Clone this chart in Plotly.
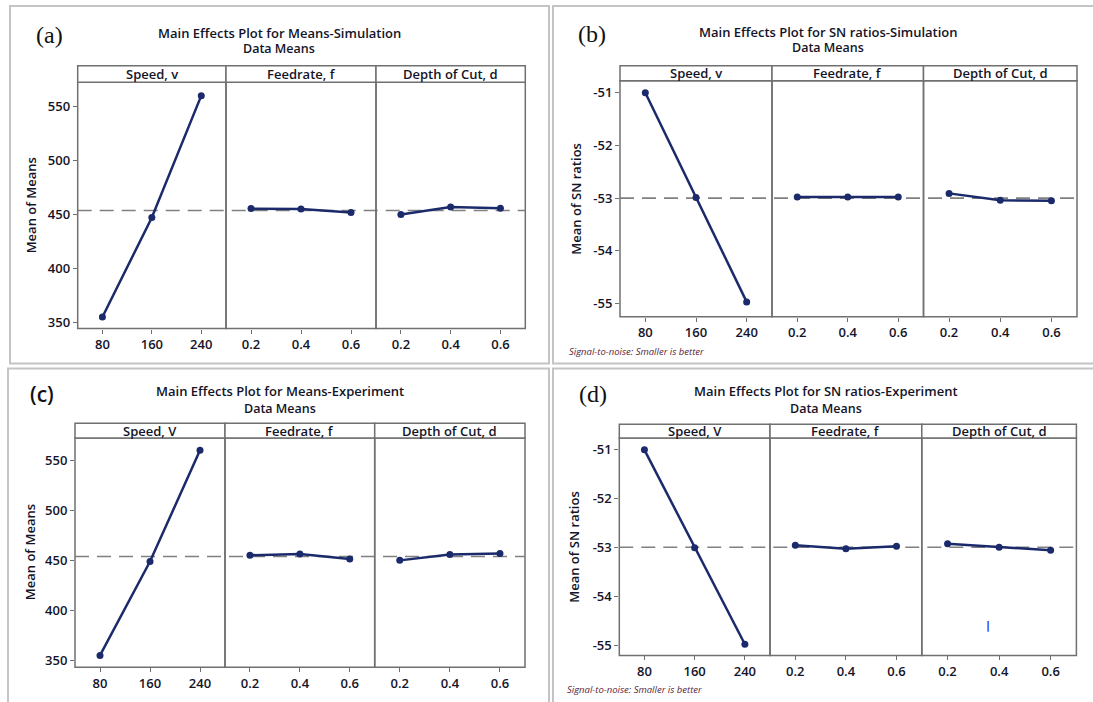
import plotly.graph_objects as go

W, H = 1093, 702

# ---------------- data ----------------
speed_levels = ["80", "160", "240"]
feed_levels = ["0.2", "0.4", "0.6"]
depth_levels = ["0.2", "0.4", "0.6"]

factor_names_a = ["Speed, v", "Feedrate, f", "Depth of Cut, d"]
factor_names_c = ["Speed, V", "Feedrate, f", "Depth of Cut, d"]

# (a) Means - Simulation
sim_means_speed = [355.3, 447.4, 560.4]
sim_means_feed = [455.7, 455.4, 452.0]
sim_means_depth = [450.2, 457.2, 456.0]
sim_means_grand = 454.0

# (b) SN ratios - Simulation
sim_sn_speed = [-51.0, -52.99, -54.97]
sim_sn_feed = [-52.98, -52.98, -52.98]
sim_sn_depth = [-52.91, -53.04, -53.05]
sim_sn_grand = -53.0

# (c) Means - Experiment
exp_means_speed = [355.0, 449.0, 560.4]
exp_means_feed = [455.3, 456.6, 451.6]
exp_means_depth = [450.2, 456.0, 457.0]
exp_means_grand = 454.0

# (d) SN ratios - Experiment
exp_sn_speed = [-51.0, -53.0, -54.97]
exp_sn_feed = [-52.95, -53.02, -52.97]
exp_sn_depth = [-52.92, -52.99, -53.05]
exp_sn_grand = -52.99

means_ticks = [350, 400, 450, 500, 550]
means_ticktext = ["350", "400", "450", "500", "550"]
sn_ticks = [-55, -54, -53, -52, -51]
sn_ticktext = ["-55", "-54", "-53", "-52", "-51"]

panels = [
    dict(tag="(a)", title="Main Effects Plot for Means-Simulation", ytitle="Mean of Means",
         names=factor_names_a, series=[sim_means_speed, sim_means_feed, sim_means_depth],
         grand=sim_means_grand, ticks=means_ticks, ticktext=means_ticktext, foot=False,
         xs=[77.7, 226, 376, 525.3], strip_top=66, top=82.5, bottom=330,
         yr=[344.5, 572.9], title_x=279, title_y=33, sub_y=49, tag_x=49, tag_y=35,
         ytitle_x=31, tagserif=True),
    dict(tag="(b)", title="Main Effects Plot for SN ratios-Simulation", ytitle="Mean of SN ratios",
         names=factor_names_a, series=[sim_sn_speed, sim_sn_feed, sim_sn_depth],
         grand=sim_sn_grand, ticks=sn_ticks, ticktext=sn_ticktext, foot=True,
         xs=[620, 772, 923.5, 1077], strip_top=66, top=81, bottom=318,
         yr=[-55.25, -50.77], title_x=828, title_y=32, sub_y=48, tag_x=592, tag_y=34,
         ytitle_x=576, foot_x=567, foot_y=353, tagserif=True),
    dict(tag="(c)", title="Main Effects Plot for Means-Experiment", ytitle="Mean of Means",
         names=factor_names_c, series=[exp_means_speed, exp_means_feed, exp_means_depth],
         grand=exp_means_grand, ticks=means_ticks, ticktext=means_ticktext, foot=False,
         xs=[75, 225, 374.7, 525], strip_top=425, top=440, bottom=670,
         yr=[343.3, 572.6], title_x=280, title_y=393, sub_y=410, tag_x=42, tag_y=396,
         ytitle_x=29.6, tagserif=False),
    dict(tag="(d)", title="Main Effects Plot for SN ratios-Experiment", ytitle="Mean of SN ratios",
         names=factor_names_c, series=[exp_sn_speed, exp_sn_feed, exp_sn_depth],
         grand=exp_sn_grand, ticks=sn_ticks, ticktext=sn_ticktext, foot=True,
         xs=[619.3, 770, 921.8, 1076.4], strip_top=426, top=440, bottom=658.3,
         yr=[-55.2, -50.76], title_x=826, title_y=393, sub_y=410, tag_x=593, tag_y=396,
         ytitle_x=574, foot_x=565, foot_y=692, tagserif=True),
]

levels = [speed_levels, feed_levels, depth_levels]

LINE = "#1b2a6b"
AXC = "#707070"
TXT = "#141428"
FONT = "Open Sans"


def px(x):
    return x / W


def py(y):
    return 1 - y / H


fig = go.Figure()
layout = dict(
    width=W, height=H, margin=dict(l=0, r=0, t=0, b=0),
    paper_bgcolor="white", plot_bgcolor="white", showlegend=False,
    font=dict(family=FONT, size=12, color=TXT),
)
shapes = []
annotations = []

# outer panel frames
FR = "#c4c4c4"
frames = [(10, 6, 549, 365), (553, 6, 1096, 365), (8, 370, 549, 706), (553, 370, 1096, 706)]
for x0, y0, x1, y1 in frames:
    shapes.append(dict(type="rect", xref="paper", yref="paper", x0=px(x0), x1=px(x1),
                       y0=py(y0), y1=py(y1), line=dict(color=FR, width=2), layer="below"))

k = 0
for p in panels:
    first_k = k + 1
    xs = p["xs"]
    for j in range(3):
        k += 1
        xa = "xaxis" if k == 1 else f"xaxis{k}"
        ya = "yaxis" if k == 1 else f"yaxis{k}"
        layout[xa] = dict(
            domain=[px(xs[j]), px(xs[j + 1])], anchor=f"y{k}", type="category",
            range=[-0.5, 2.5], showline=False,
            ticks="outside", ticklen=4, tickcolor=AXC, tickwidth=1,
            tickfont=dict(family=FONT, size=13, color=TXT, weight=600),
            showgrid=False, zeroline=False, fixedrange=True,
        )
        layout[ya] = dict(
            domain=[py(p["bottom"]), py(p["top"])], anchor=f"x{k}", range=p["yr"],
            showline=False,
            ticks="outside" if j == 0 else "", ticklen=4, tickcolor=AXC,
            tickvals=p["ticks"], ticktext=p["ticktext"], showticklabels=(j == 0),
            tickfont=dict(family=FONT, size=13, color=TXT, weight=600),
            showgrid=False, zeroline=False, fixedrange=True,
        )
        fig.add_trace(go.Scatter(
            x=levels[j], y=p["series"][j], xaxis=f"x{k}", yaxis=f"y{k}",
            mode="lines+markers", line=dict(color=LINE, width=2.5),
            marker=dict(color=LINE, size=7, symbol="circle"), hoverinfo="x+y",
        ))
        # plot box of this sub-panel
        shapes.append(dict(type="rect", xref="paper", yref="paper",
                           x0=px(xs[j]), x1=px(xs[j + 1]), y0=py(p["bottom"]), y1=py(p["top"]),
                           line=dict(color=AXC, width=1.5)))
        # strip
        shapes.append(dict(type="rect", xref="paper", yref="paper",
                           x0=px(xs[j]), x1=px(xs[j + 1]), y0=py(p["top"]), y1=py(p["strip_top"]),
                           line=dict(color=AXC, width=1.5), fillcolor="white"))
        annotations.append(dict(text=p["names"][j], xref="paper", yref="paper",
                                x=px((xs[j] + xs[j + 1]) / 2), y=py((p["strip_top"] + p["top"]) / 2),
                                showarrow=False, xanchor="center", yanchor="middle",
                                font=dict(family=FONT, size=13, color=TXT, weight=600)))
    # grand-mean dashed reference line across the group
    shapes.append(dict(type="line", xref="paper", yref=f"y{first_k}",
                       x0=px(xs[0]), x1=px(xs[3]), y0=p["grand"], y1=p["grand"],
                       line=dict(color="#808080", width=1.6, dash="14px,8px"), layer="below"))
    # titles
    annotations.append(dict(text=p["title"], xref="paper", yref="paper",
                            x=px(p["title_x"]), y=py(p["title_y"]), showarrow=False,
                            xanchor="center", yanchor="middle",
                            font=dict(family=FONT, size=13, color=TXT, weight=600)))
    annotations.append(dict(text="Data Means", xref="paper", yref="paper",
                            x=px(p["title_x"]), y=py(p["sub_y"]), showarrow=False,
                            xanchor="center", yanchor="middle",
                            font=dict(family=FONT, size=12.5, color=TXT, weight=600)))
    annotations.append(dict(text=p["tag"], xref="paper", yref="paper",
                            x=px(p["tag_x"]), y=py(p["tag_y"]), showarrow=False,
                            xanchor="center", yanchor="middle",
                            font=dict(family="Liberation Serif" if p["tagserif"] else FONT,
                                      size=24 if p["tagserif"] else 21, color="#111111",
                                      weight=400 if p["tagserif"] else 600)))
    annotations.append(dict(text=p["ytitle"], xref="paper", yref="paper",
                            x=px(p["ytitle_x"]), y=py((p["top"] + p["bottom"]) / 2),
                            showarrow=False, textangle=-90, xanchor="center", yanchor="middle",
                            font=dict(family=FONT, size=13, color=TXT, weight=600)))
    if p["foot"]:
        annotations.append(dict(text="<i>Signal-to-noise: Smaller is better</i>", xref="paper",
                                yref="paper", x=px(p["foot_x"]), y=py(p["foot_y"]),
                                showarrow=False, xanchor="left", yanchor="middle",
                                font=dict(family=FONT, size=9.5, color="#5a1e3c")))

# small blue cursor-like mark seen in panel (d)
annotations.append(dict(text="<b>|</b>", xref="paper", yref="paper", x=px(987.5), y=py(628),
                        showarrow=False, xanchor="center", yanchor="middle",
                        font=dict(family="DejaVu Sans", size=11, color="#1a1aff")))

layout["shapes"] = shapes
layout["annotations"] = annotations
fig.update_layout(**layout)
fig.write_html("out.html")
